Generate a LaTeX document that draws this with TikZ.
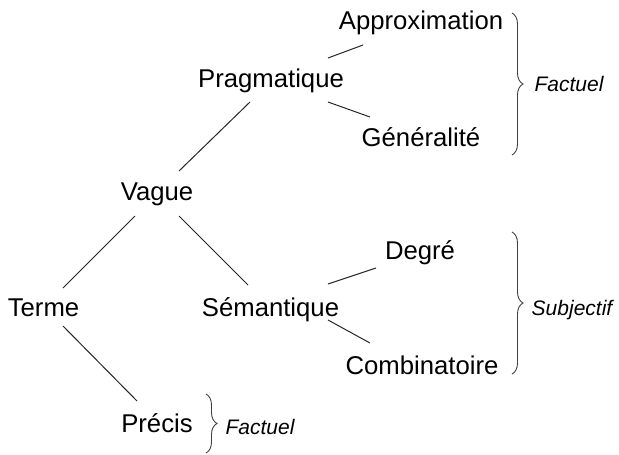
\documentclass[tikz,border=0pt]{standalone}
\usepackage{fontspec}
\setmainfont{Liberation Sans}
\usetikzlibrary{decorations.pathreplacing}
\begin{document}
\begin{tikzpicture}[x=1pt,y=-1pt,
  term/.style={anchor=base,inner sep=0pt,font=\fontsize{25.7}{30}\selectfont},
  lab/.style={anchor=base,inner sep=0pt,font=\fontsize{21}{25}\selectfont\itshape},
  edge/.style={line width=1pt,black!85},
  brc/.style={line width=0.9pt,black!75,decorate,decoration={brace,amplitude=11pt}}]
\useasboundingbox (0,0) rectangle (619,455);
\node[term] (approx) at (421,29) {Approximation};
\node[term] (prag)   at (271,87) {Pragmatique};
\node[term] (gen)    at (421,146) {Généralité};
\node[term] (vague)  at (157,200) {Vague};
\node[term] (deg)    at (420,259) {Degré};
\node[term] (terme)  at (43.5,316) {Terme};
\node[term] (sem)    at (270.5,316) {Sémantique};
\node[term] (comb)   at (422,374) {Combinatoire};
\node[term] (prec)   at (157,432) {Précis};
\node[lab] (f1) at (569,91) {Factuel};
\node[lab] (subj) at (572,315) {Subjectif};
\node[lab] (f2) at (260,434) {Factuel};
% edges
\draw[edge] ([shift={(22,-29)}]vague.base) -- ([shift={(-21,15)}]prag.base);
\draw[edge] ([shift={(-22,16)}]vague.base) -- ([shift={(19.5,-28)}]terme.base);
\draw[edge] ([shift={(22,16)}]vague.base) -- ([shift={(-22.5,-31)}]sem.base);
\draw[edge] ([shift={(19.5,10)}]terme.base) -- ([shift={(-20,-31)}]prec.base);
\draw[edge] ([shift={(57,-29)}]prag.base) -- ([shift={(-58,16)}]approx.base);
\draw[edge] ([shift={(57,15)}]prag.base) -- ([shift={(-51,-29)}]gen.base);
\draw[edge] ([shift={(57.5,-32)}]sem.base) -- ([shift={(-44,9)}]deg.base);
\draw[edge] ([shift={(57.5,4)}]sem.base) -- ([shift={(-52,-31)}]comb.base);
% braces
\coordinate (b1a) at (512,13); \coordinate (b1b) at (512,155);
\coordinate (b2a) at (512,232); \coordinate (b2b) at (512,374);
\coordinate (b3a) at (206,394); \coordinate (b3b) at (206,453);
\draw[brc] (b1a) -- (b1b);
\draw[brc] (b2a) -- (b2b);
\draw[brc] (b3a) -- (b3b);
\end{tikzpicture}
\end{document}
